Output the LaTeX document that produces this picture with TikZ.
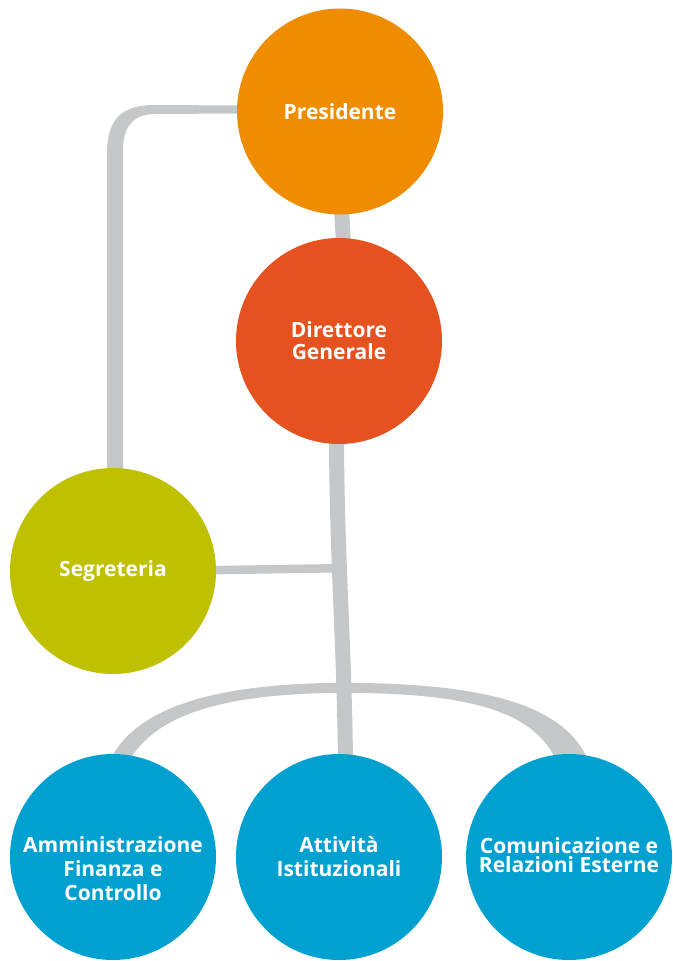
\documentclass[tikz,border=0pt]{standalone}
\usepackage{fontspec}
\setmainfont{Open Sans}
\usetikzlibrary{calc}

\definecolor{presorange}{HTML}{F08C00}
\definecolor{dirred}{HTML}{E6521F}
\definecolor{segolive}{HTML}{BEC000}
\definecolor{unitblue}{HTML}{00A1D1}
\definecolor{linkgray}{HTML}{C6C7C9}

\begin{document}
\begin{tikzpicture}[x=1pt,y=-1pt,
  unit/.style={circle, minimum size=206pt, inner sep=0pt},
  lbl/.style={text=white, font=\bfseries\fontsize{21}{24}\selectfont, align=center, inner sep=0pt},
  link/.style={draw=linkgray, line width=#1},
  band/.style={fill=linkgray}]
\useasboundingbox (0,0) rectangle (672,961);

% unit positions; the discs are filled after the connectors
\node[unit] (pres) at (340,111.5) {};
\node[unit] (dir)  at (339,341)   {};
\node[unit] (seg)  at (113,571)   {};
\node[unit] (amm)  at (113,857)   {};
\node[unit] (att)  at (339,857)   {};
\node[unit] (com)  at (569,857)   {};

% Presidente -> Segreteria, widening towards the bottom
\coordinate (bend) at (seg.north |- pres.west);
\fill[band] ($(seg.north)+(-6,2)$) -- ($(bend)+(-6,43.5)$)
  .. controls ($(bend)+(-6,8.5)$) and ($(bend)+(7,-6.5)$) .. ($(bend)+(42,-6.5)$)
  -- ($(pres.west)+(4,-6)$) -- ($(pres.west)+(4,2)$) -- ($(bend)+(42,2.5)$)
  .. controls ($(bend)+(22,2.5)$) and ($(bend)+(10,13.5)$) .. ($(bend)+(10,38.5)$)
  -- ($(seg.north)+(10,2)$) -- cycle;

% Presidente -> Direttore Generale
\draw[link=15] ($(pres.south)+(1.5,-5)$) -- ($(dir.north)+(4.5,5)$);

% Direttore Generale -> Attivita Istituzionali
\draw[link=15] ($(dir.south)+(-2.5,-5)$) .. controls +(0.5,121) and +(-1.5,-119) .. ($(att.north)+(6.5,5)$);

% Segreteria -> staff branch
\coordinate (jn) at ($(dir.south)+(-0.5,124)$);
\draw[link=8.5] ($(seg.east)+(-6,-0.8)$) -- (jn);

% arc over the three units
\fill[band] ($(amm.north)+(-2,4)$)
  .. controls +(29,-53) and +(-120,1) .. ($(att.north)+(1,-71)$)
  .. controls +(130,0) and +(-27,-58) .. ($(com.north)+(18,4)$)
  -- ($(com.north)+(-14,4)$)
  .. controls +(-25,-50) and +(120,0) .. ($(att.north)+(1,-61)$)
  .. controls +(-110,1) and +(29,-46) .. ($(amm.north)+(18,4)$) -- cycle;

% discs on top of the connectors
\fill[presorange] (pres.center) circle (103);
\fill[dirred] (dir.center) circle (103);
\fill[segolive] (seg.center) circle (103);
\fill[unitblue] (amm.center) circle (103);
\fill[unitblue] (att.center) circle (103);
\fill[unitblue] (com.center) circle (103);

% labels
\node[lbl] (t-pres) at (pres.center) {Presidente};
\node[lbl, font=\bfseries\fontsize{21}{22}\selectfont] (t-dir) at (dir.center) {Direttore\\Generale};
\node[lbl] (t-seg) at (seg.center) {Segreteria};
\node[lbl] (t-amm) at ($(amm.center)+(0,12)$) {Amministrazione\\Finanza e\\Controllo};
\node[lbl] (t-att) at (att.center) {Attività\\Istituzionali};
\node[lbl, font=\bfseries\fontsize{21}{19}\selectfont] (t-com) at ($(com.center)+(0,-2)$) {Comunicazione e\\Relazioni Esterne};
\end{tikzpicture}
\end{document}
